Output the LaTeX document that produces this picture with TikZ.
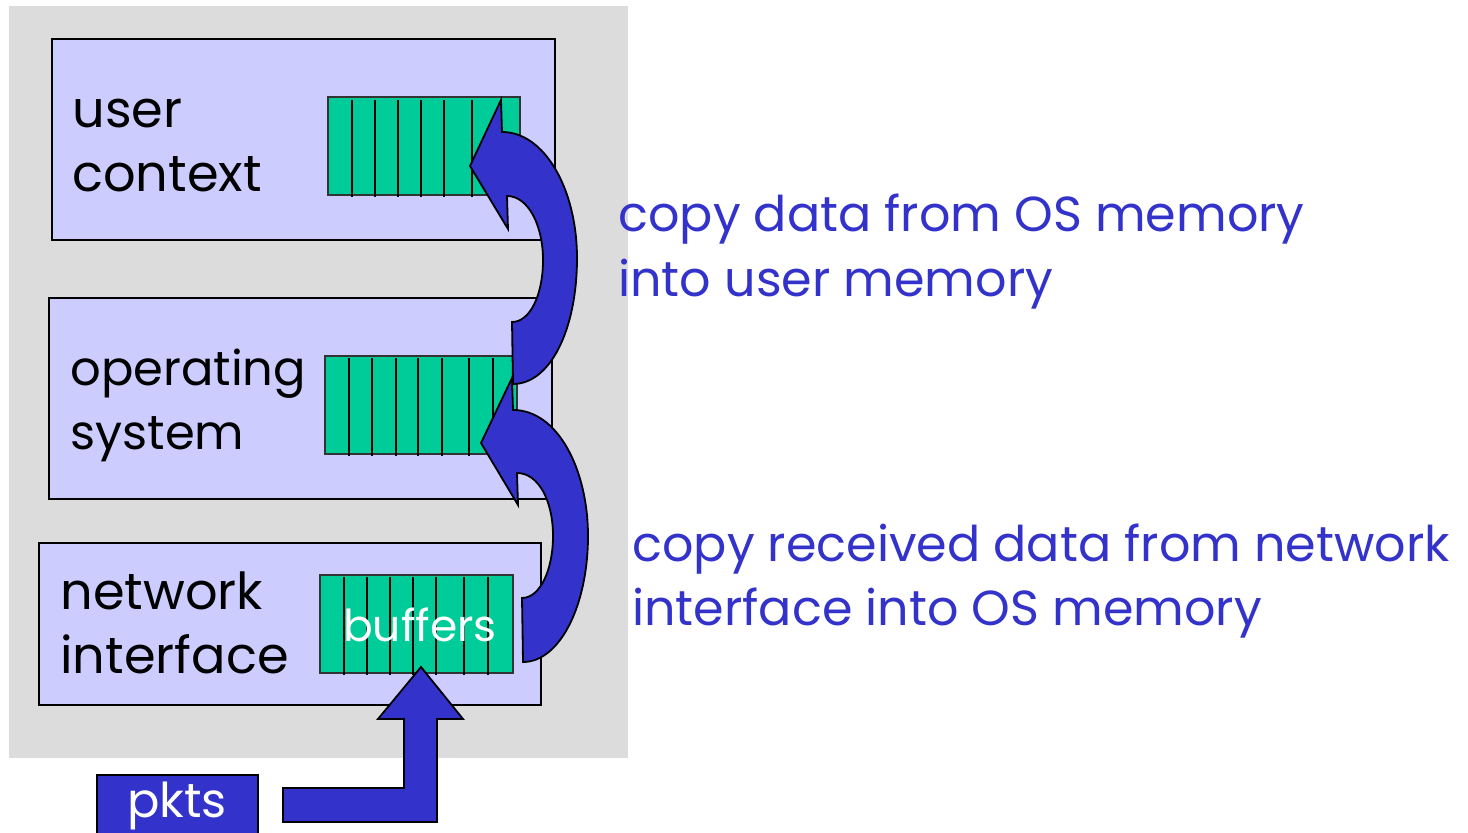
\documentclass[tikz,border=0pt]{standalone}
\usepackage{fontspec}
\setmainfont{Poppins}
\usetikzlibrary{fit}
\definecolor{panelgray}{HTML}{DCDCDC}
\definecolor{layerfill}{HTML}{CCCCFF}
\definecolor{bufgreen}{HTML}{00CC99}
\definecolor{flowblue}{HTML}{3333CC}
\tikzset{
  layer/.style={draw=black, line width=1pt, fill=layerfill, inner sep=0pt},
  bufbox/.style={draw=black!80, line width=0.8pt, fill=bufgreen, inner sep=0pt},
  stripe/.style={draw=black, line width=0.8pt},
  flow/.style={draw=black, line width=0.9pt, fill=flowblue, line join=miter},
  lbl/.style={anchor=base west, inner sep=0pt, font=\fontsize{25.5}{30}\selectfont},
  note/.style={anchor=base west, inner sep=0pt, text=flowblue, font=\fontsize{24.6}{30}\selectfont},
}
\begin{document}
\begin{tikzpicture}[x=0.5pt, y=-0.5pt]
\useasboundingbox (0,0) rectangle (1468,833);

% grey host panel
\fill[panelgray] (9,6) rectangle (628,758);

% the three layers
\node[layer, fit={(52,39) (555,240)}] (user) {};
\node[layer, fit={(49,298) (552,499)}] (os) {};
\node[layer, fit={(39,543) (541,705)}] (nic) {};

% buffers with their slot separators
\node[bufbox, fit={(328,97) (520,195)}] (ubuf) {};
\foreach \x in {352,375,398,421,444,472,501}
  \draw[stripe] (\x,100) -- (\x,197);
\node[bufbox, fit={(325,356) (517,454)}] (obuf) {};
\foreach \x in {349,372,396,418,442,469,493}
  \draw[stripe] (\x,358) -- (\x,456);
\node[bufbox, fit={(320,575) (513,673)}] (nbuf) {};
\foreach \x in {344,367,390,413,436,464,488}
  \draw[stripe] (\x,577) -- (\x,675);
\node[anchor=base, inner sep=0pt, text=white, font=\fontsize{22}{26}\selectfont] (buftxt) at (420,642) {buffers};

% layer labels
\node[lbl] (u1) at (72,128) {user};
\node[lbl] (u2) at (72,192) {context};
\node[lbl, font=\fontsize{24}{30}\selectfont] (o1) at (70,386) {operating};
\node[lbl, font=\fontsize{24}{30}\selectfont] (o2) at (70,450) {system};
\node[lbl] (n1) at (60,610) {network};
\node[lbl] (n2) at (60,674) {interface};

% copy from OS memory up into user memory
\draw[flow] (470,166) -- (501,100) -- (502,132)
  .. controls (545,132) and (577,190) .. (577,258)
  .. controls (577,330) and (550,384) .. (513,384)
  -- (512,322)
  .. controls (530,322) and (543,295) .. (543,260)
  .. controls (543,225) and (528,196) .. (507,196)
  -- (508,229) -- cycle;

% copy from the interface up into OS memory
\draw[flow] (481,443) -- (512,378) -- (513,410)
  .. controls (558,410) and (588,470) .. (588,536)
  .. controls (588,605) and (560,662) .. (523,662)
  -- (522,598)
  .. controls (540,598) and (553,570) .. (553,536)
  .. controls (553,500) and (538,473) .. (517,473)
  -- (518,505) -- cycle;

% incoming packets
\node[flow, minimum width=80.5pt, minimum height=40pt, anchor=north west, inner sep=0pt] (pkts) at (96,774) {};
\node[anchor=base, inner sep=0pt, text=white, font=\fontsize{24}{28}\selectfont] (pktxt) at (177,818) {pkts};
\draw[flow] (283,788) -- (404,788) -- (404,719) -- (378,719) -- (421,667)
  -- (463,719) -- (437,719) -- (437,822) -- (283,822) -- cycle;

% explanations
\node[note] (c1a) at (618,232) {copy data from OS memory};
\node[note] (c1b) at (618,297) {into user memory};
\node[note] (c2a) at (632,562) {copy received data from network};
\node[note] (c2b) at (632,626) {interface into OS memory};
\end{tikzpicture}
\end{document}
